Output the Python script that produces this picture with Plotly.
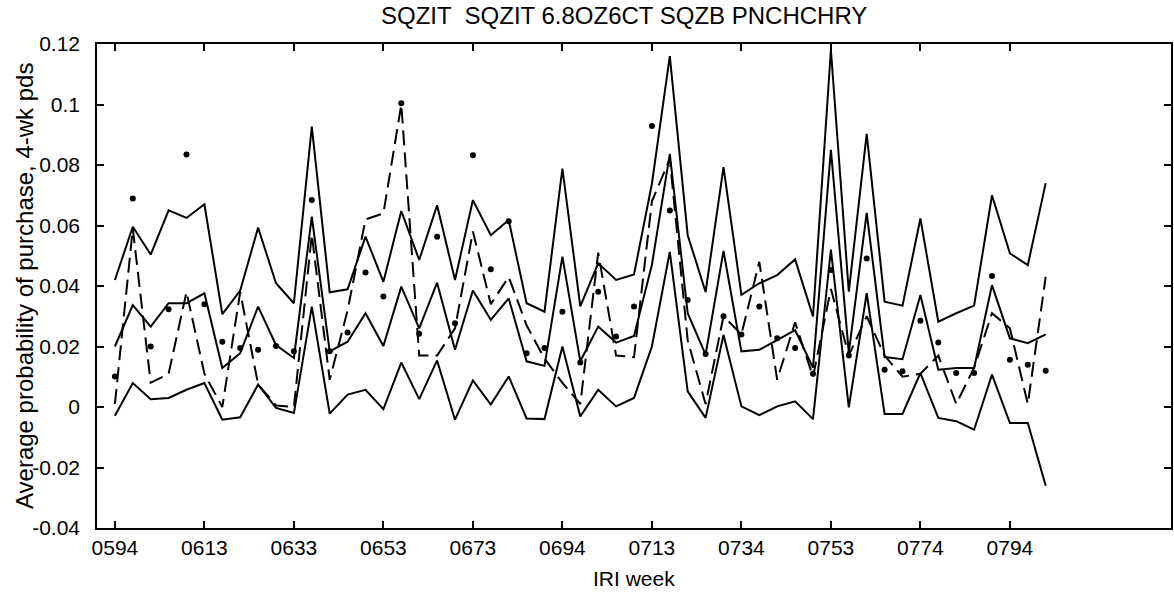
import plotly.graph_objects as go

# ---- data ----
period = list(range(1, 54))

upper = [0.042, 0.0596, 0.0504, 0.065, 0.0625, 0.067, 0.0307, 0.0385, 0.0593, 0.0409,
         0.0343, 0.0927, 0.0379, 0.0389, 0.0563, 0.0414, 0.0648, 0.0486, 0.0667, 0.042,
         0.0684, 0.0568, 0.0618, 0.0343, 0.0315, 0.0788, 0.0333, 0.0475, 0.042, 0.0438,
         0.0738, 0.116, 0.0568, 0.038, 0.0793, 0.0371, 0.0409, 0.0436, 0.0488, 0.0299,
         0.118, 0.0381, 0.0903, 0.0348, 0.0335, 0.0623, 0.0282, 0.031, 0.0335, 0.070,
         0.0508, 0.0469, 0.074]

middle = [0.020, 0.0337, 0.0266, 0.0343, 0.0343, 0.0376, 0.0129, 0.0178, 0.0332, 0.0205,
          0.0162, 0.0629, 0.0184, 0.0216, 0.031, 0.0202, 0.0398, 0.026, 0.0411, 0.0189,
          0.0385, 0.0288, 0.0359, 0.0151, 0.0136, 0.0497, 0.0151, 0.0266, 0.0213, 0.0235,
          0.047, 0.0837, 0.031, 0.0173, 0.0516, 0.0184, 0.0189, 0.0222, 0.0254, 0.013,
          0.085, 0.018, 0.0642, 0.0165, 0.0158, 0.037, 0.0123, 0.0129, 0.0129, 0.0403,
          0.0227, 0.0211, 0.024]

lower = [-0.0029, 0.0079, 0.0026, 0.003, 0.0057, 0.0079, -0.0042, -0.0034, 0.0074, -0.0003,
         -0.002, 0.0332, -0.0022, 0.0041, 0.0057, -0.0007, 0.0147, 0.0026, 0.0154, -0.0042,
         0.0088, 0.0008, 0.0101, -0.0038, -0.004, 0.020, -0.0031, 0.0057, 0.0002, 0.003,
         0.020, 0.0513, 0.0052, -0.0036, 0.0238, 0.0002, -0.0027, 0.0002, 0.0019, -0.004,
         0.052, -0.0001, 0.0376, -0.0023, -0.0023, 0.0112, -0.0036, -0.0047, -0.0075, 0.0107,
         -0.0053, -0.0053, -0.026]

predicted = [0.001, 0.059, 0.008, 0.011, 0.038, 0.011, 0.000, 0.038, 0.0075, 0.0005,
             0.000, 0.057, 0.009, 0.032, 0.062, 0.064, 0.100, 0.017, 0.017, 0.026,
             0.058, 0.034, 0.043, 0.027, 0.016, 0.008, 0.001, 0.051, 0.017, 0.0165,
             0.068, 0.082, 0.022, 0.001, 0.030, 0.024, 0.048, 0.009, 0.028, 0.010,
             0.039, 0.017, 0.030, 0.017, 0.010, 0.011, 0.017, 0.001, 0.013, 0.031,
             0.026, 0.001, 0.043]

actual = [0.0101, 0.0689, 0.0200, 0.0323, 0.0835, 0.0340, 0.0216, 0.0195, 0.0189, 0.0202,
          0.0184, 0.0684, 0.0184, 0.0246, 0.0445, 0.0365, 0.1004, 0.0242, 0.0563, 0.0277,
          0.0832, 0.0455, 0.0614, 0.0178, 0.0195, 0.0315, 0.0147, 0.0381, 0.0233, 0.0332,
          0.0929, 0.0650, 0.0354, 0.0175, 0.030, 0.024, 0.0332, 0.0227, 0.0195, 0.011,
          0.0453, 0.017, 0.0491, 0.0123, 0.0118, 0.0285, 0.0213, 0.0112, 0.0112, 0.0433,
          0.0156, 0.0140, 0.012]

x_tick_pos = [1, 6, 11, 16, 21, 26, 31, 36, 41, 46, 51]
x_tick_labels = ['0594', '0613', '0633', '0653', '0673', '0694', '0713', '0734', '0753', '0774', '0794']
y_tick_pos = [-0.04, -0.02, 0, 0.02, 0.04, 0.06, 0.08, 0.1, 0.12]
y_tick_labels = ['-0.04', '-0.02', '0', '0.02', '0.04', '0.06', '0.08', '0.1', '0.12']

title_text = 'SQZIT  SQZIT 6.8OZ6CT SQZB PNCHCHRY'
x_title = 'IRI week'
y_title = 'Average probability of purchase, 4-wk pds'

FONT = 'Liberation Sans, Arial, Helvetica, sans-serif'
LW = 2.0

fig = go.Figure()
for ys in (upper, middle, lower):
    fig.add_trace(go.Scatter(x=period, y=ys, mode='lines',
                             line=dict(color='black', width=LW), showlegend=False))
fig.add_trace(go.Scatter(x=period, y=predicted, mode='lines',
                         line=dict(color='black', width=LW, dash='15px,7px'),
                         showlegend=False))
fig.add_trace(go.Scatter(x=period, y=actual, mode='markers',
                         marker=dict(color='black', size=6), showlegend=False))

axis_common = dict(showline=True, linecolor='black', linewidth=1.5, mirror='ticks',
                   ticks='inside', ticklen=7, tickwidth=1.5, tickcolor='black',
                   showgrid=False, zeroline=False,
                   tickfont=dict(family=FONT, size=21, color='black'))

fig.update_xaxes(range=[0, 60], tickmode='array', tickvals=x_tick_pos,
                 ticktext=x_tick_labels, **axis_common)
fig.update_yaxes(range=[-0.04, 0.12], tickmode='array', tickvals=y_tick_pos,
                 ticktext=y_tick_labels, ticklabelstandoff=11, **axis_common)

fig.update_layout(
    width=1174, height=593,
    margin=dict(l=97, r=1, t=44, b=65),
    paper_bgcolor='white', plot_bgcolor='white',
    annotations=[
        dict(text=title_text, xref='paper', yref='paper', x=0.491, y=1.0, yshift=29,
             showarrow=False, xanchor='center', yanchor='middle',
             font=dict(family=FONT, size=24, color='black')),
        dict(text=x_title, xref='paper', yref='paper', x=0.5, y=0, yshift=-50,
             showarrow=False, xanchor='center', yanchor='middle',
             font=dict(family=FONT, size=21, color='black')),
        dict(text=y_title, xref='paper', yref='paper', x=0, xshift=-73, y=0.5,
             textangle=-90, showarrow=False, xanchor='center', yanchor='middle',
             font=dict(family=FONT, size=24, color='black')),
    ],
)

fig.write_html('out.html')
